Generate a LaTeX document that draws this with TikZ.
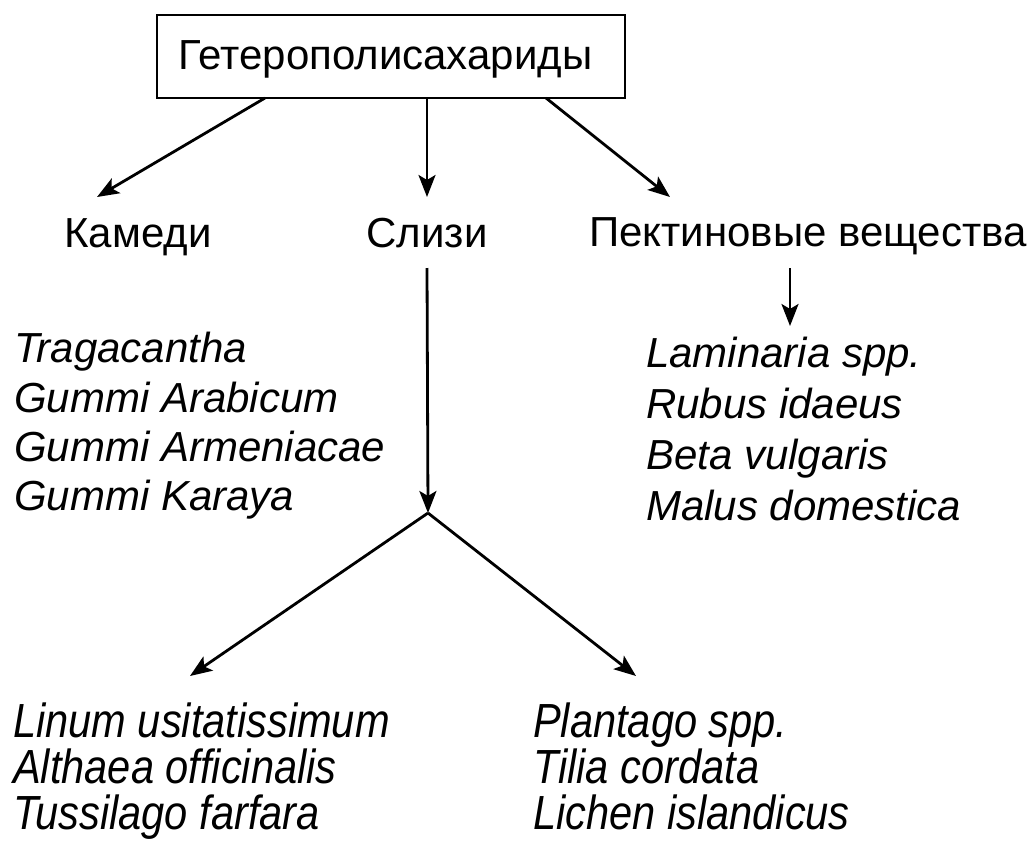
\documentclass[tikz,border=0pt]{standalone}
\usepackage{fontspec}
\usetikzlibrary{arrows.meta}
\setmainfont{Liberation Sans}
\newcommand{\tallit}[1]{\scalebox{0.99}[1.14]{#1}}
\begin{document}
\begin{tikzpicture}[x=1pt,y=-1pt,
  lbl/.style={font=\fontsize{42}{50}\selectfont, inner sep=0pt},
  it/.style={font=\fontsize{42}{50}\selectfont\itshape, inner sep=0pt, anchor=base west},
  arr/.style={line width=2.8pt, -{Stealth[length=22pt,width=17pt,inset=5pt]}}]
\useasboundingbox (0,0) rectangle (1032,843);
\node[draw, line width=2.4pt, minimum width=468pt, minimum height=83pt, inner sep=0pt] (top) at (391,56.5) {};
\node[font=\fontsize{42}{50}\selectfont, inner sep=0pt, anchor=base] (toptxt) at (385.5,70) {Гетерополисахариды};
\node[lbl, anchor=base] (kam) at (138,247) {Камеди};
\node[lbl, anchor=base] (sl) at (427,247) {Слизи};
\node[lbl, anchor=base west] (pek) at (589,246) {Пектиновые вещества};
\coordinate (tl) at (265,98);
\coordinate (tr) at (546,98);
\coordinate (kt) at (97,197);
\coordinate (st) at (427,197);
\coordinate (pt) at (670,197);
\draw[arr] (tl) -- (kt);
\draw[arr] (top.south -| st) -- (st);
\draw[arr] (tr) -- (pt);
\coordinate (p1) at (790,268);
\coordinate (p2) at (790,326);
\draw[arr] (p1) -- (p2);
\coordinate (s1) at (427,268);
\coordinate (fork) at (428,513);
\draw[arr] (s1) -- (fork);
\coordinate (bl) at (190,676);
\coordinate (br) at (636,676);
\draw[arr] (fork) -- (bl);
\draw[arr] (fork) -- (br);
\node[it] (g1) at (14,362) {Tragacantha};
\node[it] (g2) at (14,412) {Gummi Arabicum};
\node[it] (g3) at (14,461) {Gummi Armeniacae};
\node[it] (g4) at (14,510) {Gummi Karaya};
\node[it] (c1) at (646,367) {Laminaria spp.};
\node[it] (c2) at (646,418) {Rubus idaeus};
\node[it] (c3) at (646,469) {Beta vulgaris};
\node[it] (c4) at (646,520) {Malus domestica};
\node[it] (m1) at (13,737) {\tallit{Linum usitatissimum}};
\node[it] (m2) at (13,783) {\tallit{Althaea officinalis}};
\node[it] (m3) at (13,829) {\tallit{Tussilago farfara}};
\node[it] (n1) at (533,737) {\tallit{Plantago spp.}};
\node[it] (n2) at (533,783) {\tallit{Tilia cordata}};
\node[it] (n3) at (533,829) {\tallit{Lichen islandicus}};
\end{tikzpicture}
\end{document}
